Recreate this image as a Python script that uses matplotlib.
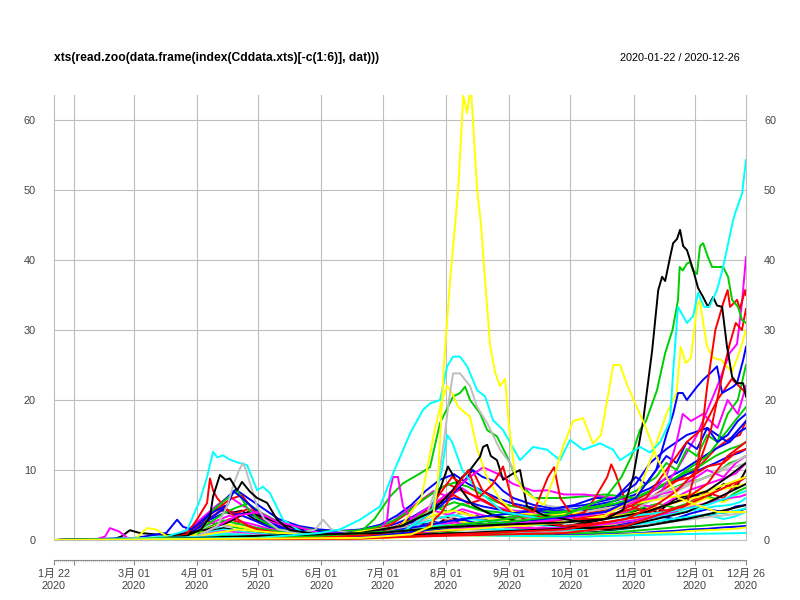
import numpy as np
import matplotlib
matplotlib.use("Agg")
import matplotlib.pyplot as plt
import matplotlib.dates as mdates

plt.rcParams['font.family'] = ['Liberation Sans', 'Noto Sans CJK JP']

# ---------------- data (day offsets from 2020-01-22, values) ----------------
# R palette colours, in the order xts cycles them
pal_black, pal_red, pal_green, pal_blue = '#000000', '#FF0000', '#00CD00', '#0000FF'
pal_cyan, pal_magenta, pal_yellow, pal_gray = '#00FFFF', '#FF00FF', '#FFFF00', '#BEBEBE'

# shared day grids for the many low series
grid_a = [0, 40, 55, 62, 68, 74, 80, 86, 92, 98, 105, 115, 125, 135, 145, 155, 165, 172, 179, 186,
          193, 200, 207, 214, 221, 230, 240, 250, 260, 270, 280, 288, 296, 304, 312, 320, 328, 334, 339]
grid_b = [0, 45, 58, 65, 71, 77, 83, 89, 95, 102, 110, 120, 130, 140, 150, 160, 168, 175, 182, 189,
          196, 203, 210, 217, 225, 235, 245, 255, 265, 275, 284, 292, 300, 308, 316, 324, 331, 336, 339]

low1 = [0, 0, 0.4, 1, 1.8, 3.2, 4.5, 3.8, 4.2, 3, 2.2, 1.5, 1, 0.8, 0.9, 0.7, 1, 1.6, 2.4, 2, 3.2, 2.8, 3.5, 2.6, 3, 2.4, 2.8, 2, 2.4, 3, 3.6, 4.5, 4, 5.8, 6.5, 6, 8, 7.4, 10]
low2 = [0, 0, 0.1, 0.6, 1.4, 2.8, 2.2, 3, 2.4, 1.8, 1.2, 0.8, 0.5, 0.4, 0.5, 0.4, 0.8, 1.4, 2.6, 3.5, 2.8, 4, 3.2, 2.5, 2, 1.6, 1.8, 1.4, 2, 2.6, 2.2, 3.4, 4.5, 3.8, 5.5, 6.8, 6, 8, 9]
low3 = [0, 0, 0, 0.3, 0.8, 1.5, 2.4, 2, 1.6, 1.2, 0.9, 0.6, 0.5, 0.4, 0.6, 0.8, 1.2, 2.2, 3.4, 4.8, 4, 5.2, 4.4, 3.8, 3.2, 3.6, 3, 2.8, 3.4, 3, 3.8, 4.6, 5.2, 4.6, 5.4, 6.2, 5.6, 6.8, 7.5]
low4 = [0, 0, 0.2, 0.7, 1.5, 2.6, 3.4, 4.2, 3.5, 2.8, 1.9, 1.2, 0.8, 0.7, 0.6, 0.7, 0.9, 1.3, 1.9, 2.6, 2.2, 2.9, 2.4, 2.1, 1.8, 1.9, 1.6, 1.5, 1.8, 2, 2.4, 2.9, 3.4, 3, 3.8, 4.4, 4, 4.8, 5]
low5 = [0, 0, 0, 0.2, 0.6, 1.2, 1.8, 1.5, 1.3, 1, 0.7, 0.5, 0.3, 0.3, 0.3, 0.4, 0.5, 0.8, 1.3, 1.6, 2.2, 1.8, 2, 1.6, 1.4, 1.2, 1.1, 1, 1.2, 1.3, 1.6, 1.9, 2.4, 2.8, 3.2, 3.6, 3, 3.4, 4]
low6 = [0, 0, 0.1, 0.5, 1.2, 2, 2.8, 3.5, 2.6, 2.2, 1.6, 1.2, 0.9, 0.8, 1, 1.2, 1.6, 2.4, 3.2, 4.2, 3.6, 4.4, 3.8, 3.2, 3, 3.4, 2.8, 3.2, 3.6, 3.4, 4, 5, 4.6, 6, 7.2, 8, 8.8, 9.5, 11]
low7 = [0, 0, 0, 0.2, 0.5, 1, 1.5, 1.2, 1.4, 0.9, 0.6, 0.4, 0.3, 0.3, 0.4, 0.5, 0.8, 1.2, 1.8, 2.4, 2, 2.6, 2.2, 2, 1.8, 1.9, 1.6, 1.5, 1.8, 2, 2.6, 3.2, 4, 3.6, 5, 6, 5.4, 6.4, 7]
low8 = [0, 0, 0.1, 0.3, 0.9, 1.6, 2.2, 1.9, 2.4, 1.6, 1.2, 0.9, 0.7, 0.6, 0.8, 1, 1.2, 1.8, 2.6, 3.4, 3, 3.8, 3.2, 3, 2.8, 3, 2.6, 2.8, 3.2, 3.6, 4.2, 5, 6, 6.8, 8, 9, 10, 10.5, 11]
low9 = [0, 0, 0.2, 0.5, 0.9, 1.3, 1.7, 1.4, 1.2, 1, 0.8, 0.6, 0.5, 0.4, 0.5, 0.6, 0.8, 1, 1.3, 1.6, 1.9, 1.7, 1.5, 1.4, 1.3, 1.2, 1.1, 1.2, 1.3, 1.5, 1.8, 2.2, 2.6, 3, 3.4, 3.8, 4, 4.2, 4.5]
low10 = [0, 0, 0.3, 1, 2, 3.2, 4.6, 3.8, 4.4, 3, 2, 1.3, 1, 0.9, 1, 1.3, 2, 3, 4.2, 5.6, 6.4, 5.2, 5.8, 4.6, 4, 3.5, 3.2, 3, 3.4, 3.8, 4.5, 6, 7.5, 9, 10.5, 13, 14.5, 15, 17]
low11 = [0, 0, 0.1, 0.4, 1, 2, 2.8, 2.4, 2, 1.6, 1.2, 0.9, 0.8, 0.8, 1, 1.3, 1.8, 2.8, 3.8, 4.6, 5.4, 4.8, 4.2, 4, 3.6, 3.4, 3.2, 3.6, 4, 4.4, 5, 5.6, 7, 8, 8.6, 9.5, 11, 11.5, 12]
low12 = [0, 0, 0.2, 0.8, 1.8, 3.2, 4.4, 3.6, 3.9, 2.8, 1.8, 1.3, 1, 1, 1.1, 1.6, 2.4, 3.2, 4.4, 5.2, 6, 5.4, 4.8, 4.4, 4, 4.2, 3.8, 4, 4.4, 5, 5.8, 6.8, 8, 9.2, 10, 11, 12, 12.5, 13]
low13 = [0, 0, 0.1, 0.3, 0.7, 1.2, 1.5, 1.3, 1.1, 0.9, 0.7, 0.6, 0.5, 0.5, 0.6, 0.9, 1.4, 2, 2.6, 3.2, 3.6, 3, 2.8, 2.5, 2.3, 2.2, 2, 2.1, 2.3, 2.5, 2.8, 3.2, 3.6, 4, 4.4, 4.8, 5, 5.4, 6]
low14 = [0, 0, 0, 0.2, 0.5, 1, 1.3, 1.1, 0.9, 0.7, 0.5, 0.4, 0.4, 0.4, 0.5, 0.7, 1, 1.4, 1.9, 2.2, 2.5, 2.2, 2, 1.9, 1.8, 1.7, 1.7, 1.9, 2.1, 2.4, 2.8, 3.3, 3.8, 4.4, 5, 5.6, 6, 6.2, 6.5]
low15 = [0, 0, 0.1, 0.4, 1, 1.8, 2.4, 2, 1.7, 1.3, 1, 0.8, 0.7, 0.7, 0.9, 1.3, 1.9, 2.6, 3.2, 3.8, 4.2, 3.6, 3.2, 3, 2.8, 2.6, 2.5, 2.7, 3, 3.4, 3.8, 4.4, 5, 5.6, 6.2, 7, 7.5, 7.8, 8]
low16 = [0, 0, 0, 0.2, 0.4, 0.7, 1, 0.9, 0.8, 0.6, 0.5, 0.4, 0.4, 0.3, 0.4, 0.6, 0.9, 1.2, 1.5, 1.8, 1.7, 1.5, 1.4, 1.3, 1.2, 1.2, 1.1, 1.2, 1.4, 1.6, 1.9, 2.2, 2.5, 2.8, 3.1, 3.4, 3.6, 3.8, 4]
low17 = [0, 0, 0, 0.1, 0.3, 0.5, 0.6, 0.5, 0.4, 0.3, 0.3, 0.2, 0.2, 0.2, 0.3, 0.4, 0.6, 0.8, 1, 1.2, 1.1, 1, 0.9, 0.9, 0.8, 0.8, 0.8, 0.9, 1, 1.1, 1.3, 1.5, 1.7, 1.9, 2, 2.2, 2.3, 2.4, 2.5]
low18 = [0, 0, 0, 0.1, 0.2, 0.3, 0.4, 0.4, 0.3, 0.3, 0.2, 0.2, 0.2, 0.2, 0.2, 0.3, 0.4, 0.5, 0.7, 0.8, 0.9, 0.8, 0.7, 0.7, 0.6, 0.6, 0.6, 0.7, 0.7, 0.8, 0.9, 1, 1.2, 1.3, 1.5, 1.6, 1.8, 1.9, 2]
low19 = [0, 0, 0, 0.1, 0.3, 0.6, 0.9, 0.8, 0.7, 0.5, 0.4, 0.3, 0.3, 0.4, 0.5, 0.7, 1, 1.4, 1.8, 2.1, 2, 1.8, 1.6, 1.5, 1.5, 1.4, 1.4, 1.5, 1.7, 1.9, 2.2, 2.5, 2.9, 3.2, 3.5, 3.8, 4, 4.3, 4.5]
low20 = [0, 0, 0, 0, 0.1, 0.2, 0.3, 0.3, 0.3, 0.2, 0.2, 0.1, 0.1, 0.1, 0.2, 0.2, 0.3, 0.4, 0.5, 0.7, 0.8, 0.7, 0.6, 0.6, 0.6, 0.5, 0.5, 0.6, 0.6, 0.7, 0.8, 0.9, 1, 1.1, 1.3, 1.4, 1.5, 1.6, 1.8]
mid1 = [0, 0, 0.2, 0.8, 2, 3.5, 5, 6.2, 5, 4, 2.8, 1.8, 1.2, 1, 1.2, 1.6, 2.5, 4, 5.5, 7, 6.2, 7.4, 6, 5, 4.4, 4, 3.6, 3.2, 3.6, 4, 4.8, 5.5, 6.5, 7, 8.5, 10, 9, 11, 12]
mid2 = [0, 0, 0.3, 1, 2.4, 4, 5.6, 7.2, 6, 4.6, 3, 2, 1.5, 1.3, 1.5, 2.2, 3.5, 5, 7, 8.6, 9.4, 8, 7, 6, 5.2, 4.6, 4.2, 4.4, 5, 5.6, 6.4, 7.4, 8.8, 10, 11.5, 13, 14, 15.5, 16]
mid3 = [0, 0, 0.1, 0.6, 1.6, 3, 4.4, 5.8, 6.4, 4.2, 3, 2, 1.4, 1, 1.1, 1.5, 2.2, 3.6, 5.4, 6.8, 8, 7, 6.2, 5, 4.2, 3.6, 3.2, 3.4, 3.8, 4.4, 5, 6.2, 7.6, 8.4, 9, 10.5, 11, 12.5, 13]
mid4 = [0, 0, 0.1, 0.5, 1.4, 2.6, 3.8, 4.6, 5.2, 3.8, 2.6, 1.8, 1.3, 1.2, 1.4, 2, 3, 4.4, 6, 7.4, 8.2, 7.6, 6.4, 5.4, 4.8, 4.4, 4, 4.2, 4.6, 5.2, 6, 7, 8.2, 9.4, 10.5, 12, 13, 13.5, 14]

# the prominent series
blk_apr_d = [0, 50, 65, 72, 76.4, 77.9, 81.3, 84, 86.2, 89.7, 92.1, 96, 99.5, 104.4, 109.3, 115.6, 130, 160, 200, 240, 280, 310, 325, 339]
blk_apr_v = [0, 0.2, 0.6, 1.5, 3.3, 6.2, 9.3, 8.6, 8.8, 7.1, 8.3, 6.9, 6, 5.3, 2.9, 1.4, 0.8, 0.6, 1, 1.5, 2, 4, 6, 8]
blk_sum_d = [0, 90, 150, 170, 185, 195, 200, 203.8, 208.7, 210.2, 212.2, 214, 217, 220, 224.9, 228.3, 231.7, 240, 250, 260, 270, 280, 290, 300, 310, 320, 330, 339]
blk_sum_v = [0, 0.3, 1, 2, 4, 7, 9, 10, 11.9, 13.3, 13.6, 12, 11.4, 8.6, 9.5, 10, 4.8, 3.5, 3, 2.5, 3, 3.5, 4, 5, 6, 7, 9, 11]
blk_feb_d = [0, 28, 33, 37.2, 42, 50, 60, 75, 85, 95, 105, 120, 140, 160, 175, 185, 190, 193, 196, 200, 205, 215, 230, 250, 270, 290, 310, 325, 339]
blk_feb_v = [0, 0, 0.5, 1.4, 1, 0.8, 0.7, 1.5, 2.5, 4, 3, 1.5, 1, 1.2, 2, 4, 8, 10.5, 9, 7, 5, 3.5, 2.5, 2, 1.5, 2, 3, 4, 5]
blk_big_d = [0, 60, 100, 130, 160, 190, 220, 250, 270, 278.8, 283.7, 288.6, 293, 296, 297.9, 299.4, 301.8, 303.3, 305.2, 306.7, 308.2, 310.1, 311.6, 313.1, 315.5, 318, 320.4, 322.9, 324.8, 327.3, 329.7, 332.2, 334.6, 337.6, 339]
blk_big_v = [0, 0.2, 0.6, 0.8, 1, 1.8, 2.2, 2.5, 3, 4.3, 9, 17, 27, 35.7, 37.6, 37, 40.4, 42.4, 43, 44.3, 42, 41.4, 40, 38.6, 36, 34.7, 33.3, 34.7, 33.5, 33.3, 27.6, 23.3, 22.4, 22.4, 20.5]

red_apr_d = [0, 55, 65, 70, 75, 76.4, 78, 79.9, 84.8, 90, 95, 100, 110, 130, 160, 180, 190, 195, 200, 205, 210, 215, 220, 230, 250, 270, 290, 310, 325, 339]
red_apr_v = [0, 0.1, 0.8, 2.9, 5.3, 8.8, 7, 6, 4.3, 3, 2, 1.5, 1, 0.7, 1, 3, 7, 9, 8, 10, 7, 6, 5, 3, 2, 2.5, 3.5, 5, 7, 9]
red_oct_d = [0, 100, 150, 200, 240, 250, 260, 265, 268, 271, 273, 275, 278, 281, 290, 300, 310, 320, 330, 339]
red_oct_v = [0, 0.2, 0.5, 1.5, 2.5, 3, 4, 6, 7.5, 9, 10.8, 9.5, 7, 5, 4, 5, 6, 8, 12, 14]
red_aug_d = [0, 120, 180, 190, 198, 203, 208, 215, 220, 225, 235, 242, 245, 248, 255, 270, 290, 300, 310, 318, 325, 332, 339]
red_aug_v = [0, 0.3, 1, 4, 8, 10, 6, 8, 10.5, 5, 4, 9, 10.4, 6, 3, 3, 6, 10, 14, 16, 20, 23, 21]
red_dec_d = [0, 150, 250, 280, 300, 310, 316, 320, 324, 328, 330, 331.2, 334.6, 336, 338.6, 339]
red_dec_v = [0, 0.3, 1, 2, 4, 5, 12, 22, 30, 34, 35.7, 33.3, 34.3, 33, 35.7, 35]
red_dec2_d = [0, 150, 250, 280, 295, 305, 315, 322, 327, 331, 334, 337, 339]
red_dec2_v = [0, 0.2, 1.5, 3, 5, 7, 10, 16, 23, 28, 31, 30, 33]

grn_sum_d = [0, 60, 70, 78, 85, 89.7, 94.6, 100, 110, 130, 150, 157, 164.6, 171, 179.3, 184.2, 189.1, 195.5, 198.9, 201.4, 203.8, 208.7, 212.2, 217, 222, 226.8, 235, 250, 270, 285, 300, 320, 339]
grn_sum_v = [0, 0.1, 0.5, 4.3, 6, 7.1, 4.6, 3, 1.5, 1, 1.1, 3, 6.2, 8.1, 9.5, 10.4, 16.7, 20.5, 21, 21.9, 20, 18.1, 15.7, 14.8, 11.9, 8.6, 6, 6, 6.5, 6, 8, 12, 19]
grn_big_d = [0, 80, 130, 180, 220, 250, 270, 278, 283, 287, 290, 295.4, 299.4, 303, 305.7, 306.5, 308, 310.1, 311.6, 313, 315, 316.5, 318, 320.4, 322.4, 324.8, 327.8, 330.2, 332.2, 335.1, 337.1, 339]
grn_big_v = [0, 0.3, 0.6, 1.5, 2.5, 3.5, 6, 9, 12, 15.7, 17, 21.4, 26.7, 30, 34.3, 39, 38.5, 39.5, 39.7, 38.5, 38, 42, 42.4, 40.4, 39, 39, 39, 37.6, 34.3, 33.3, 31.4, 31]
grn3_d = [0, 150, 250, 270, 285, 295, 300, 305, 310, 315, 320, 325, 330, 335, 339]
grn3_v = [0, 0.5, 4, 5, 7, 9, 11, 10, 13, 12, 15, 14, 18, 20, 25]

blu_mar_d = [0, 40, 55, 60.3, 63.2, 67, 72, 78, 85, 88, 92, 96, 100, 105, 115, 130, 150, 170, 180, 190, 200, 205, 210, 215, 220, 225, 235, 245, 255, 265, 275, 285, 292, 300, 310, 320, 330, 339]
blu_mar_v = [0, 0.3, 1, 2.9, 1.9, 1.5, 2.5, 4, 5, 7, 6, 5, 4, 2.5, 1.5, 1.2, 1, 2, 3, 5, 8, 10, 9, 8.5, 7, 6, 5, 4.5, 5, 6, 6, 8, 11, 13, 15, 16, 14, 17]
blu_dec_d = [0, 150, 200, 240, 270, 285, 295, 300, 303.3, 305.7, 308, 310, 315, 318, 321.4, 324.8, 327.3, 332.7, 334.6, 337.6, 339]
blu_dec_v = [0, 0.3, 2, 3, 4, 6, 10, 15, 18, 21, 21, 20, 21.9, 22.9, 23.8, 24.8, 21, 21.9, 22.4, 25.7, 27.6]
blu3_d = [0, 150, 200, 230, 260, 275, 285, 290, 295, 300, 305, 310, 315, 320, 325, 330, 335, 339]
blu3_v = [0, 0.5, 3, 4, 5, 6, 9, 8, 10, 12, 11, 14, 13, 16, 14, 15, 17, 18]

cyn_apr_d = [0, 40, 55, 65.2, 71.5, 75, 77.9, 80, 82.8, 86, 89.7, 94.6, 99.5, 102.4, 105.8, 112.2, 122, 140, 180, 220, 260, 300, 339]
cyn_apr_v = [0, 0.2, 0.5, 1.4, 5.7, 9, 12.6, 11.8, 12.1, 11.5, 11.1, 10.7, 7.1, 7.6, 6.7, 2.9, 1, 0.6, 0.8, 0.6, 0.5, 0.8, 1]
cyn3_d = [0, 170, 185, 190, 192.6, 195, 200, 205, 212, 220, 240, 270, 300, 320, 339]
cyn3_v = [0, 1, 4, 10, 15, 14, 10, 8, 6, 4, 3, 3, 4, 5, 7]
cyn_big_d = [0, 100, 130, 140, 149.9, 159.7, 166.1, 174.4, 180.8, 184.2, 189.1, 192.6, 195.5, 198.9, 202.4, 207.3, 211.2, 215.1, 220, 228.3, 234.7, 241.5, 247.9, 252.8, 259.2, 267.5, 273.9, 277.3, 287.1, 292, 297, 301.8, 303.3, 305.7, 310.1, 313.1, 315.5, 318.5, 321, 324.8, 327.8, 332.7, 333.7, 337.1, 339]
cyn_big_v = [0, 0.3, 1, 1.5, 2.9, 4.8, 9.5, 15.2, 18.6, 19.5, 20, 24.8, 26.2, 26.2, 24.8, 21.4, 20.5, 17.1, 15.7, 11.4, 13.3, 12.9, 11.4, 14.3, 12.9, 13.8, 12.9, 11.4, 13.3, 12.5, 14, 17, 24, 33.3, 31, 32, 35.3, 33.3, 33.3, 35.7, 39, 45.7, 46.7, 49.5, 54.3]

mag_feb_d = [0, 20, 25, 27.4, 32, 36, 50, 70, 80, 90, 100, 110, 112.2, 118, 130, 150, 160, 163.2, 164.6, 166.1, 168.5, 171, 175, 185, 195, 203.8, 210.2, 217, 225, 235, 241.5, 250, 260, 275, 285, 295, 305, 315, 325, 331, 334.6, 337, 339]
mag_feb_v = [0, 0, 0.5, 1.7, 1.2, 0.3, 0.2, 0.5, 2, 3.5, 4, 2.5, 2.4, 2, 1, 0.8, 1.5, 2.9, 7.1, 9, 9, 4.8, 3, 5, 7, 9, 10.4, 9.5, 8, 7, 7.1, 6.5, 6.5, 6, 5.5, 6, 10, 15, 22, 26.7, 28, 33.8, 40.4]
mag2_d = [0, 150, 250, 270, 290, 300, 305, 308, 312, 318, 325, 330, 335, 339]
mag2_v = [0, 0.3, 3, 4, 6, 9, 14, 18, 17, 18, 16, 20, 18, 22]

yel3_d = [0, 40, 45.6, 50, 56, 70, 90, 110, 140, 170, 180, 186, 190, 192.6, 195, 198, 203.8, 207.3, 212, 218, 225, 240, 260, 280, 300, 320, 339]
yel3_v = [0, 0.2, 1.7, 1.5, 0.4, 0.6, 1.5, 1, 0.8, 2, 6, 15, 20, 22, 21, 19, 17.6, 13, 9, 6, 4, 3.5, 4, 5, 6, 7, 9]
yel2_d = [0, 120, 200, 250, 270, 285, 293, 300, 305, 307, 309.5, 312, 315, 316.5, 318, 320, 323, 327, 332, 336, 339]
yel2_v = [0, 0.5, 1.5, 2.5, 3.5, 6, 12, 18, 21, 27.6, 25.3, 26, 33.3, 34.3, 31, 27.6, 26, 25.7, 24, 27, 30]
yel_big_d = [0, 100, 150, 175, 185, 188, 191, 194, 198, 199.5, 200.5, 202.4, 203.5, 204.5, 207.3, 209.2, 211.2, 213.6, 216, 218.5, 221, 223, 226, 230, 235, 240, 244.5, 249, 254.3, 259.2, 264, 268, 271, 274, 277.3, 281, 287, 290, 295, 300, 306, 315, 325, 339]
yel_big_v = [0, 0.2, 0.3, 0.8, 2, 8, 25, 37, 50, 58, 63.5, 61, 63.5, 63.5, 50, 45, 37, 28, 24, 22, 23, 16, 9, 7, 6, 5, 8.6, 13, 17, 17.4, 13.8, 15, 20, 25, 25, 22, 18, 16, 12, 9, 6, 5, 4, 4]

gry_big_d = [0, 60, 70, 80, 85, 88, 90.7, 92.6, 94, 96, 99.5, 103, 110, 120, 128, 131.8, 136, 145, 160, 175, 183, 188, 191, 193.5, 195.5, 198.9, 203.8, 207.3, 212.2, 218.5, 223.4, 230, 240, 260, 280, 300, 320, 339]
gry_big_v = [0, 0.2, 0.5, 2, 5, 8, 10, 11, 10, 8.1, 4.8, 3, 1.5, 1, 1.5, 2.9, 1.5, 1, 1, 2, 4, 8, 14, 20, 23.8, 23.8, 22, 19, 16.7, 12.9, 11, 7, 5, 4, 5, 7, 9, 12]

tick_dates = ['2020-01-22', '2020-02-01', '2020-03-01', '2020-04-01', '2020-05-01', '2020-06-01',
              '2020-07-01', '2020-08-01', '2020-09-01', '2020-10-01', '2020-11-01', '2020-12-01', '2020-12-26']
tick_labels = ['1月 22\n2020', '', '3月 01\n2020', '4月 01\n2020', '5月 01\n2020', '6月 01\n2020',
               '7月 01\n2020', '8月 01\n2020', '9月 01\n2020', '10月 01\n2020', '11月 01\n2020',
               '12月 01\n2020', '12月 26\n2020']
y_ticks = [0, 10, 20, 30, 40, 50, 60]

# ---------------- plot ----------------
start = mdates.date2num(np.datetime64('2020-01-22'))
tick_x = [mdates.date2num(np.datetime64(t)) for t in tick_dates]

lows = [(grid_a, low1, pal_black), (grid_a, low2, pal_red), (grid_a, low3, pal_green), (grid_a, low4, pal_blue),
        (grid_a, low5, pal_cyan), (grid_a, low6, pal_magenta), (grid_a, low7, pal_yellow), (grid_a, low8, pal_gray),
        (grid_b, low9, pal_black), (grid_b, low10, pal_red), (grid_b, low11, pal_green), (grid_b, low12, pal_blue),
        (grid_b, low13, pal_cyan), (grid_b, low14, pal_magenta), (grid_b, low15, pal_yellow), (grid_b, low16, pal_gray),
        (grid_b, low17, pal_green), (grid_a, low18, pal_blue), (grid_b, low19, pal_cyan), (grid_a, low20, pal_yellow),
        (grid_a, mid1, pal_magenta), (grid_b, mid2, pal_blue), (grid_a, mid3, pal_red), (grid_b, mid4, pal_green)]
mains = [(blk_feb_d, blk_feb_v, pal_black), (red_apr_d, red_apr_v, pal_red), (grn_sum_d, grn_sum_v, pal_green),
         (blu_mar_d, blu_mar_v, pal_blue), (cyn_apr_d, cyn_apr_v, pal_cyan), (mag_feb_d, mag_feb_v, pal_magenta),
         (yel3_d, yel3_v, pal_yellow), (gry_big_d, gry_big_v, pal_gray),
         (blk_apr_d, blk_apr_v, pal_black), (red_oct_d, red_oct_v, pal_red), (grn3_d, grn3_v, pal_green),
         (blu3_d, blu3_v, pal_blue), (cyn3_d, cyn3_v, pal_cyan), (mag2_d, mag2_v, pal_magenta),
         (yel2_d, yel2_v, pal_yellow),
         (blk_sum_d, blk_sum_v, pal_black), (red_aug_d, red_aug_v, pal_red), (blu_dec_d, blu_dec_v, pal_blue),
         (red_dec2_d, red_dec2_v, pal_red), (red_dec_d, red_dec_v, pal_red), (grn_big_d, grn_big_v, pal_green),
         (blk_big_d, blk_big_v, pal_black), (cyn_big_d, cyn_big_v, pal_cyan), (yel_big_d, yel_big_v, pal_yellow)]

fig = plt.figure(figsize=(8, 6), dpi=100)
ax = fig.add_axes([54 / 800, 60 / 600, 692 / 800, 445 / 600])
ax.set_xlim(start, start + 339)
ax.set_ylim(0, 63.57)

# grid
for x in tick_x:
    ax.axvline(x, color='#BEBEBE', lw=0.8, zorder=0, clip_on=False)
for y in y_ticks:
    ax.axhline(y, color='#BEBEBE', lw=0.8, zorder=0, clip_on=False)

for d, v, c in lows + mains:
    ax.plot(start + np.array(d), v, color=c, lw=1.4, zorder=2)

for s in ['top', 'left', 'right']:
    ax.spines[s].set_visible(False)
ax.spines['bottom'].set_position(('outward', 14.4))
ax.spines['bottom'].set_color('#888888')
ax.spines['bottom'].set_linewidth(0.8)

ax.set_yticks(y_ticks)
ax.tick_params(axis='y', left=False, right=False, labelleft=True, labelright=True,
               labelsize=7.8, labelcolor='#444444', pad=9.5)
ax.set_xticks(tick_x)
ax.set_xticklabels(tick_labels)
ax.set_xticks(start + np.arange(0, 340), minor=True)
ax.tick_params(axis='x', which='major', length=3.6, width=0.8, color='#888888',
               labelsize=7.8, labelcolor='#444444', pad=3)
ax.tick_params(axis='x', which='minor', length=1.5, width=0.5, color='#CCCCCC')

fig.text(54 / 800, 1 - 58 / 600, 'xts(read.zoo(data.frame(index(Cddata.xts)[-c(1:6)], dat)))',
         fontsize=8.7, fontweight='bold', ha='left', va='center')
fig.text(740 / 800, 1 - 58 / 600, '2020-01-22 / 2020-12-26', fontsize=7.8, ha='right', va='center')

fig.savefig('out.png', dpi=100)
